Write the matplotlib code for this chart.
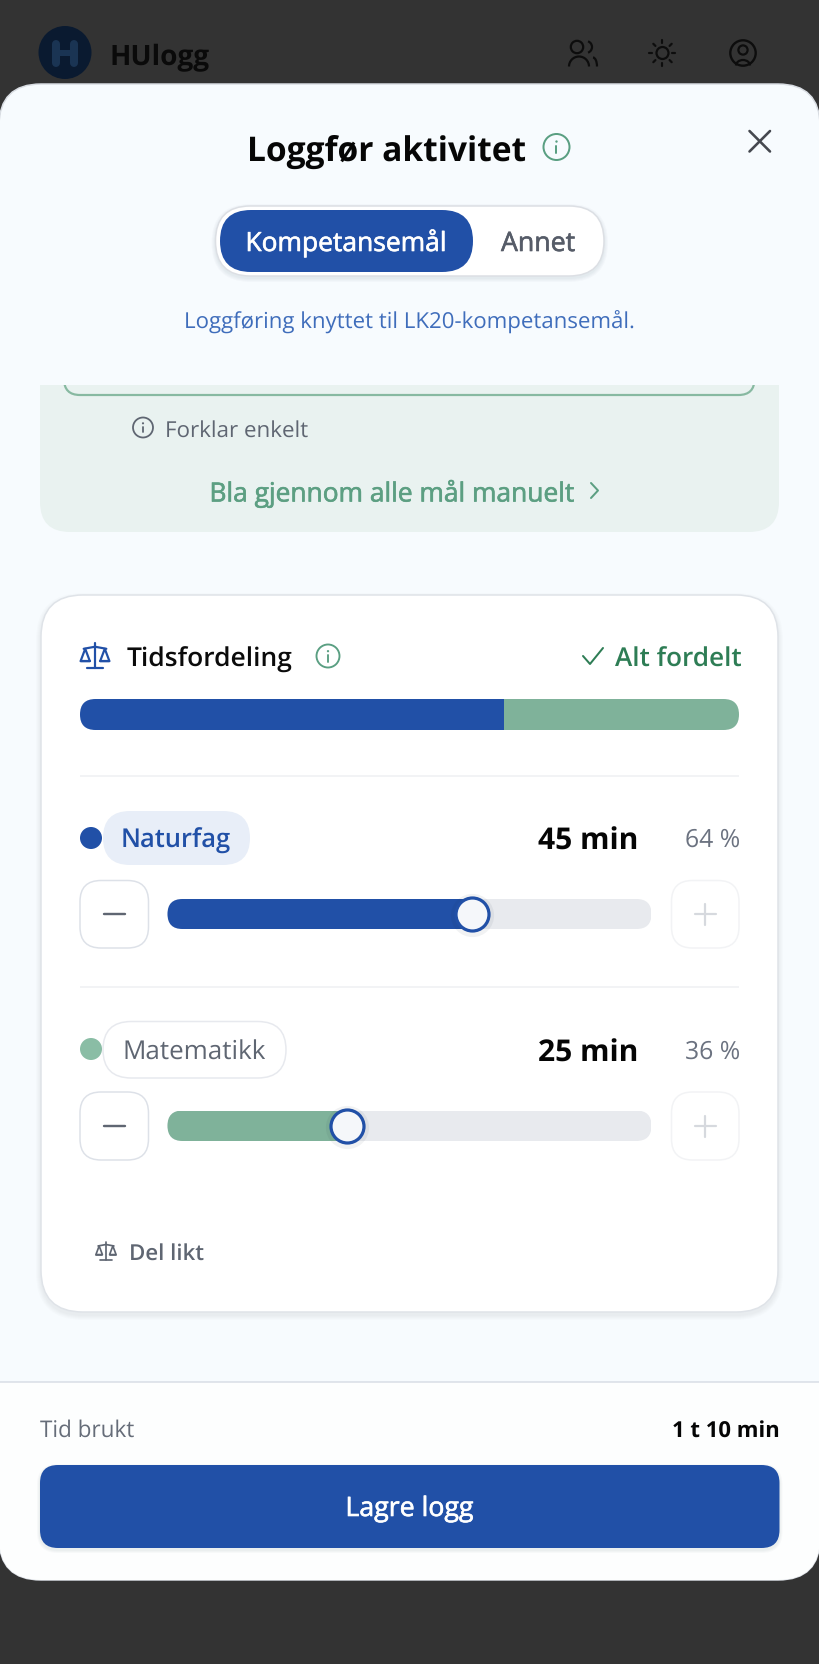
import numpy as np
import matplotlib
matplotlib.use("Agg")
import matplotlib.pyplot as plt
import matplotlib.patheffects as pe
from matplotlib.patches import FancyBboxPatch, Circle, Rectangle, Polygon, Arc
from matplotlib.textpath import TextPath
from matplotlib.font_manager import FontProperties

plt.rcParams["text.hinting"] = "no_hinting"

# ---- data ----
subjects = ["Naturfag", "Matematikk"]
minutes = [45, 25]
percents = [64, 36]
total_label = "1 t 10 min"

# ---- style ----
W, H = 820, 1665
BLUE, GREEN = "#2150a7", "#7fb29a"
GREY = "#5f6672"
FONT = "Open Sans"
subject_colors = [BLUE, GREEN]

fig = plt.figure(figsize=(W / 100, H / 100), dpi=100, facecolor="#333333")
ax = fig.add_axes([0, 0, 1, 1])
ax.set_xlim(0, W)
ax.set_ylim(H, 0)
ax.axis("off")
renderer = fig.canvas.get_renderer()


def rrect(x0, y0, x1, y1, r, fc="none", ec="none", lw=0, z=1, alpha=None, a=ax):
    p = FancyBboxPatch((x0 + r, y0 + r), x1 - x0 - 2 * r, y1 - y0 - 2 * r,
                       boxstyle=f"round,pad={r},rounding_size={r}",
                       fc=fc, ec=ec, lw=lw * .72, zorder=z, alpha=alpha)
    a.add_patch(p)
    return p


def shadow(x0, y0, x1, y1, r, dy=3, spread=6, alpha=.012, z=1):
    for i in range(spread, 0, -1):
        rrect(x0 - i, y0 - i + dy, x1 + i, y1 + i + dy, r + i, fc="#1b2a40", alpha=alpha, z=z)


def text(s, x0, x1, base, color, weight="normal", z=10):
    medium = weight == "medium"
    fp = FontProperties(family=FONT, weight="normal" if medium else weight)
    bb = TextPath((0, 0), s, size=100, prop=fp).get_extents()
    px = (x1 - x0) / bb.width * 100
    t = ax.text(x0, base, s, fontproperties=fp, fontsize=px * .72,
                color=color, ha="left", va="baseline", zorder=z)
    for _ in range(2):
        w = t.get_window_extent(renderer).width
        t.set_fontsize(t.get_fontsize() * (x1 - x0 + 2.2) / w)
    t.set_x(x0 + 1 - bb.x0 * t.get_fontsize() / .72 / 100)
    if medium:
        t.set_path_effects([pe.withStroke(linewidth=.45, foreground=color)])


def line(xs, ys, c, lw, z=12, cap="round"):
    ax.plot(xs, ys, color=c, lw=lw * .72, solid_capstyle=cap, solid_joinstyle="round", zorder=z)


def info(cx, cy, r, c, lw=2):
    ax.add_patch(Circle((cx, cy), r, fc="none", ec=c, lw=lw * .72, zorder=12))
    line([cx, cx], [cy - r * .05, cy + r * .48], c, lw)
    ax.add_patch(Circle((cx, cy - r * .42), lw * .6, fc=c, ec="none", zorder=12))


def scale_icon(cx, cy, s, c, lw=2):
    line([cx, cx], [cy - 13 * s, cy + 12 * s], c, lw)
    line([cx - 8 * s, cx + 8 * s], [cy + 12 * s, cy + 12 * s], c, lw)
    line([cx - 11 * s, cx, cx + 11 * s], [cy - 7 * s, cy - 9 * s, cy - 7 * s], c, lw)
    for sx in (-1, 1):
        px = cx + sx * 9.5 * s
        ax.add_patch(Polygon([[px, cy - 7 * s], [px - 4.5 * s, cy + 5 * s], [px + 4.5 * s, cy + 5 * s]],
                             closed=True, fc="none", ec=c, lw=lw * .72, zorder=12, joinstyle="round"))
        line([px - 4.5 * s, px + 4.5 * s], [cy + 5 * s, cy + 5 * s], c, lw)


# ---- page header behind the sheet ----
ax.add_patch(Circle((65, 53.5), 26.5, fc="#0a1a30", ec="none", zorder=1))
line([56, 56], [45, 63.5], "#1a3453", 8, z=2)
line([74, 74], [45, 63.5], "#1a3453", 8, z=2)
line([56, 74], [54, 54], "#1a3453", 6, z=2)
text("HUlogg", 111, 209, 65.5, "#0a0a0a", "bold", z=2)
INK = "#0d0d0d"
ax.add_patch(Circle((577, 48), 6.2, fc="none", ec=INK, lw=1.6, zorder=2))
ax.add_patch(Arc((579, 67.5), 20, 20, theta1=180, theta2=360, ec=INK, lw=1.6, zorder=2))
ax.add_patch(Arc((586, 48), 12, 12, theta1=-70, theta2=70, ec=INK, lw=1.6, zorder=2))
ax.add_patch(Arc((593, 67.5), 8, 18, theta1=270, theta2=360, ec=INK, lw=1.6, zorder=2))
ax.add_patch(Circle((662.5, 54), 6, fc="none", ec=INK, lw=1.6, zorder=2))
for ang in np.arange(0, 360, 45):
    cs, sn = np.cos(np.radians(ang)), np.sin(np.radians(ang))
    line([662.5 + 10 * cs, 662.5 + 13 * cs], [54 + 10 * sn, 54 + 13 * sn], INK, 2.2, z=2)
ax.add_patch(Circle((743, 54), 12.7, fc="none", ec=INK, lw=1.7, zorder=2))
ax.add_patch(Circle((743, 51), 4.6, fc="none", ec=INK, lw=1.6, zorder=2))
ax.add_patch(Arc((743, 66.5), 14, 11, theta1=180, theta2=360, ec=INK, lw=1.6, zorder=2))

# ---- sheet ----
sheet = rrect(-1, 85, 820, 1581, 42, fc="#f7fbfe", ec="#d9dde3", lw=1.5, z=3)
foot = Rectangle((0, 1383), W, 220, fc="#fdfefe", ec="none", zorder=3.1)
ax.add_patch(foot)
foot.set_clip_path(sheet)
line([0, W], [1383, 1383], "#d8dde5", 1.5, z=3.2, cap="butt")

text("Loggfør aktivitet", 249, 526, 161, "#060606", "bold")
info(556.5, 148, 13, "#5a9f82", 2)
line([749.5, 770], [132, 152.5], "#45484f", 2.6)
line([770, 749.5], [132, 152.5], "#45484f", 2.6)

# toggle
shadow(215.5, 207, 604, 277, 35, dy=2, spread=4, alpha=.02, z=4)
rrect(215.5, 207, 604, 277, 35, fc="white", ec="#dcdfe4", lw=1.5, z=4.1)
rrect(220, 211, 473, 273, 31, fc=BLUE, z=5)
text("Kompetansemål", 247, 446, 252, "white", "medium")
text("Annet", 500, 572, 252, "#565c68", "medium")
text("Loggføring knyttet til LK20-kompetansemål.", 185, 635, 328.5, "#3f6dbb")

# green panel (scrolled, so clipped at top)
clip = Rectangle((0, 386), W, 200, transform=ax.transData)
p = rrect(40, 340, 779, 533, 30, fc="#e9f2f0", z=4)
p.set_clip_path(clip)
p = rrect(64, 340, 754.5, 396, 16, fc="#e9f2f0", ec="#87b9a1", lw=2.2, z=4.5)
p.set_clip_path(clip)
info(143, 428.5, 10, "#5f6672", 1.8)
text("Forklar enkelt", 166.5, 307, 436.5, GREY)
text("Bla gjennom alle mål manuelt", 211, 574, 502.5, "#5c9f82", "medium")
line([591, 598, 591], [484, 491.5, 499], "#5c9f82", 2)

# card
shadow(41, 596, 778, 1313, 42, dy=3, spread=5, alpha=.012, z=4)
rrect(41, 596, 778, 1313, 42, fc="white", ec="#dfe3e8", lw=1.5, z=4.2)
scale_icon(95, 657, 1.03, BLUE, 2.2)
text("Tidsfordeling", 125.5, 289, 667, "#0b0b0b", "semibold")
info(328, 657, 11.5, "#5a9f82", 1.9)
line([583, 590, 603], [657, 665, 649], "#2e7d55", 2)
text("Alt fordelt", 614, 738.5, 667, "#2e7d55", "semibold")


def px_axes(x0, y0, x1, y1):
    a = fig.add_axes([x0 / W, 1 - y1 / H, (x1 - x0) / W, (y1 - y0) / H], facecolor="none", zorder=2)
    a.axis("off")
    return a


# stacked allocation bar, drawn on a minutes scale
BX0, BX1, BY0, BY1 = 80, 739, 700, 731
bar_ax = px_axes(BX0, BY0, BX1, BY1)
bar_ax.set_xlim(0, sum(minutes))
bar_ax.set_ylim(0, 1)
mask_path = rrect(BX0, BY0, BX1, BY1, 15.5, fc="none", z=0)
left = 0
for m, col in zip(minutes, subject_colors):
    b = bar_ax.barh(0.5, m, left=left, height=1, color=col, lw=0)[0]
    b.set_clip_path(mask_path)
    left += m

DIV = "#eff1f3"
line([80, 739], [776.5, 776.5], DIV, 1.6, z=5, cap="butt")
line([80, 739], [988, 988], DIV, 1.6, z=5, cap="butt")

# subject rows
row_dot_y = [839, 1050]
pills = [(103, 812, 250, 866), (103, 1022.5, 286, 1079)]
name_x = [(122, 230, 848, BLUE, "semibold"), (124, 265.5, 1060, GREY, "normal")]
min_base = [850, 1062]
pct_base = [847, 1059]
btn_y = [(881.5, 949), (1093, 1161)]
track_y = [(900, 930), (1111.5, 1142)]
THUMB_R = 18
TX0, TX1 = 167.5, 651.5

for i, (name, m, pc, col) in enumerate(zip(subjects, minutes, percents, subject_colors)):
    ax.add_patch(Circle((91, row_dot_y[i]), 11, fc=col if i == 0 else "#8abda5", ec="none", zorder=6))
    x0, y0, x1, y1 = pills[i]
    rrect(x0, y0, x1, y1, (y1 - y0) / 2, fc="#e8eef8" if i == 0 else "white",
          ec="none" if i == 0 else "#e7e9ee", lw=1.5, z=6)
    nx0, nx1, nb, nc, nw = name_x[i]
    text(name, nx0, nx1, nb, nc, nw)
    text(f"{m} min", 538, 636, min_base[i], "#050505", "bold")
    text(f"{pc} %", 685.5, 738.5, pct_base[i], "#6b7280")
    by0, by1 = btn_y[i]
    rrect(80, by0, 148.5, by1, 21, fc="white", ec="#dde1e8", lw=1.5, z=6)
    line([104, 125], [(by0 + by1) / 2] * 2, GREY, 2.4)
    rrect(671.5, by0, 739, by1, 21, fc="white", ec="#f2f3f5", lw=1.5, z=6)
    cy = (by0 + by1) / 2
    line([695, 716], [cy, cy], "#d6d9de", 2.2)
    line([705.5, 705.5], [cy - 10.5, cy + 10.5], "#d6d9de", 2.2)

    # slider on a percent scale, with room for the thumb at each end
    ty0, ty1 = track_y[i]
    sl = px_axes(TX0, ty0, TX1, ty1)
    pad = 100 * THUMB_R / (TX1 - TX0 - 2 * THUMB_R)
    sl.set_xlim(-pad, 100 + pad)
    sl.set_ylim(0, 1)
    tr = rrect(TX0, ty0, TX1, ty1, (ty1 - ty0) / 2, fc="none", z=0)
    for v, c in ((100 + 2 * pad, "#e8eaee"), (pc + pad, col)):
        b = sl.barh(0.5, v, left=-pad, height=1, color=c, lw=0)[0]
        b.set_clip_path(tr)
    sl.scatter([pc], [0.46], s=(2 * THUMB_R * 1.2 * .72) ** 2, color="#1b2a40", alpha=.06, lw=0,
               clip_on=False, zorder=3)
    sl.scatter([pc], [0.5], s=(2 * 16.5 * .72) ** 2, facecolor="#f5f7fa", edgecolor=BLUE,
               linewidth=3.2 * .72, clip_on=False, zorder=4)

scale_icon(106, 1252, .72, GREY, 1.7)
text("Del likt", 130, 203, 1260, GREY, "semibold")

# footer
text("Tid brukt", 39.5, 132, 1437, "#666d79")
text(total_label, 672.5, 778.5, 1437, "#050505", "bold")
shadow(40, 1466, 779.5, 1549, 18, dy=2, spread=3, alpha=.025, z=4)
rrect(40, 1466, 779.5, 1549, 18, fc=BLUE, z=5)
text("Lagre logg", 347, 473, 1517, "white", "medium")

fig.savefig("out.png", dpi=100, facecolor=fig.get_facecolor())
